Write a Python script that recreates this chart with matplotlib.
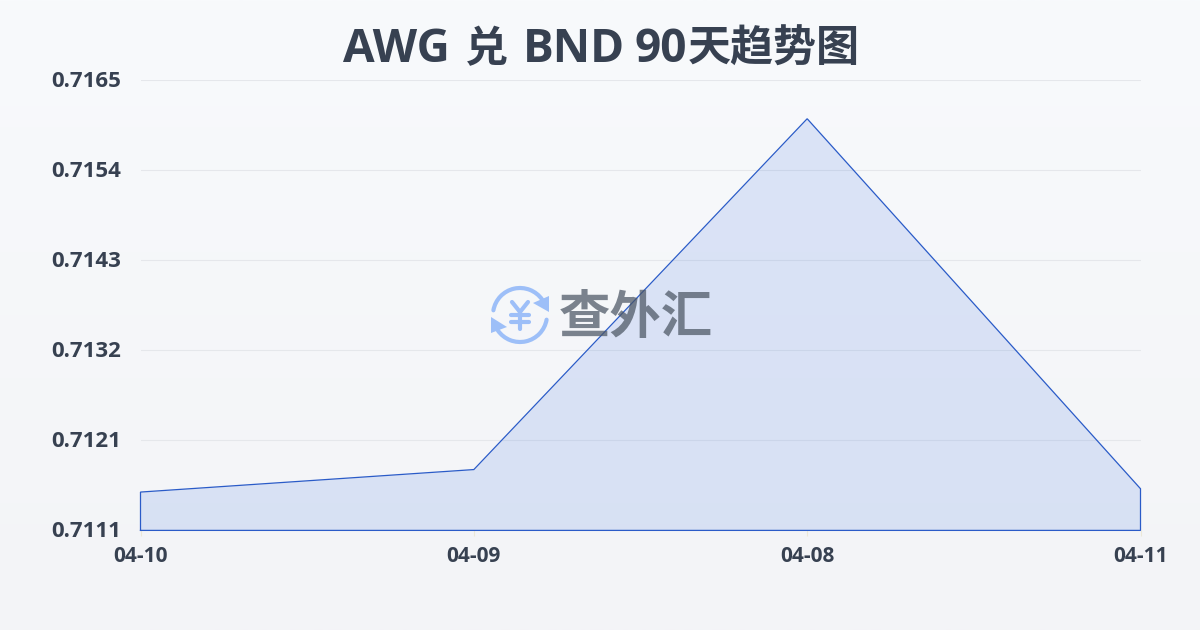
import numpy as np
import matplotlib
matplotlib.use("Agg")
import matplotlib.pyplot as plt
from matplotlib.patches import Arc, Polygon
from matplotlib.transforms import ScaledTranslation

LATIN = "Open Sans"
CJK = ["Noto Sans", "Noto Sans CJK SC"]
plt.rcParams["font.family"] = [LATIN, "Noto Sans CJK SC", "DejaVu Sans"]

title_parts = ["AWG", "兑", "BND", "90", "天趋势图"]
title_x = [343, 465, 523, 634, 688]
brand = "查外汇"
dates = ["04-10", "04-09", "04-08", "04-11"]
rates = [0.71156, 0.71183, 0.71604, 0.71160]
y_ticks = [0.7111, 0.71218, 0.71326, 0.71434, 0.71542, 0.7165]
y_labels = ["0.7111", "0.7121", "0.7132", "0.7143", "0.7154", "0.7165"]

W, H = 1200, 630
INK = "#374151"
LINE = "#2a5bc8"

fig = plt.figure(figsize=(W / 100, H / 100), dpi=100)

# page background, soft vertical gradient
bg = fig.add_axes([0, 0, 1, 1], zorder=0)
bg.imshow(np.linspace(0, 1, 256).reshape(-1, 1), aspect="auto", extent=(0, 1, 0, 1),
          cmap=matplotlib.colors.LinearSegmentedColormap.from_list("bg", ["#f8fafc", "#f3f4f7"]))
bg.axis("off")

ax = fig.add_axes([140.5 / W, 1 - 530.4 / H, 1000 / W, 450 / H], zorder=1)
ax.patch.set_alpha(0)
x = np.arange(len(dates))
ax.fill_between(x, rates, y_ticks[0], color="#3b6fe0", alpha=0.15, lw=0, zorder=2)
ax.plot(np.r_[x[0], x, x[-1], x[0]], np.r_[y_ticks[0], rates, y_ticks[0], y_ticks[0]],
        color=LINE, lw=0.9, zorder=3, solid_joinstyle="miter", clip_on=False)
ax.set_xlim(x[0], x[-1])
ax.set_ylim(y_ticks[0], y_ticks[-1])
ax.set_xticks(x, dates)
ax.set_yticks(y_ticks, y_labels)
ax.grid(axis="y", color="#e5e7eb", lw=0.8)
ax.set_axisbelow(True)
ax.spines[:].set_visible(False)
ax.tick_params(axis="x", length=4, width=0.8, color="#ece8d8", pad=7, labelsize=15, labelcolor=INK)
ax.tick_params(axis="y", length=0, pad=14, labelsize=16, labelcolor=INK)
for lab in ax.get_xticklabels():
    lab.set_fontweight("bold")
# y labels sit a touch above their gridlines
up = ScaledTranslation(0, 1.3 / 72, fig.dpi_scale_trans)
for lab in ax.get_yticklabels():
    lab.set_fontweight("bold")
    lab.set_transform(lab.get_transform() + up)

# overlay in pixel coordinates: title runs and watermark
wm = fig.add_axes([0, 0, 1, 1], zorder=3)
wm.set_xlim(0, W)
wm.set_ylim(H, 0)
wm.axis("off")

for part, px in zip(title_parts, title_x):
    is_cjk = ord(part[0]) > 0x2E80
    wm.text(px, 62, part, ha="left", va="baseline", fontsize=31 if is_cjk else 33,
            fontweight="bold", color=INK, family=CJK if is_cjk else LATIN)

ICON = "#9dbff8"
cx, cy, r = 520, 315, 27
wm.add_patch(Arc((cx, cy), 2 * r, 2 * r, theta1=190, theta2=325, color=ICON, lw=3, capstyle="round"))
wm.add_patch(Arc((cx, cy), 2 * r, 2 * r, theta1=10, theta2=145, color=ICON, lw=3, capstyle="round"))
wm.add_patch(Polygon([[549, 296], [549, 312], [533, 303]], color=ICON, lw=0))
wm.add_patch(Polygon([[491, 317], [491, 333], [507, 327]], color=ICON, lw=0))
# yen sign of the logo
for xs, ys in [([512, 520, 528], [302, 312, 302]), ([520, 520], [312, 329]),
               ([511, 529], [315, 315]), ([511, 529], [322, 322])]:
    wm.plot(xs, ys, color=ICON, lw=3, solid_capstyle="round", solid_joinstyle="round")
wm.text(636, 319, brand, ha="center", va="center", fontsize=37, fontweight="bold",
        color="#4b5563", alpha=0.72, family=CJK)
wm.set_xlim(0, W)
wm.set_ylim(H, 0)

fig.savefig("out.png", dpi=100)
